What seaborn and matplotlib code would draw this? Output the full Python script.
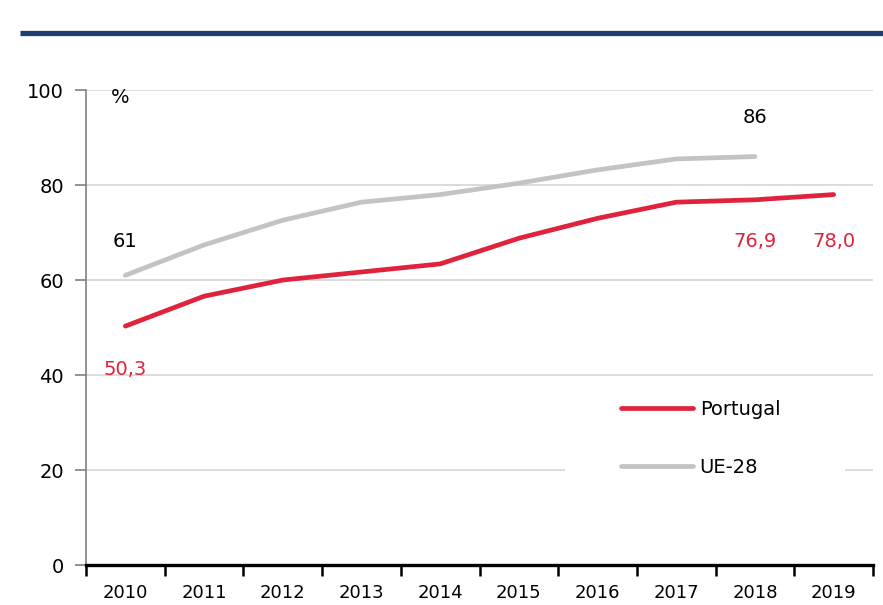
import matplotlib
matplotlib.use('Agg')
import matplotlib.pyplot as plt
from matplotlib.patches import Rectangle
import pandas as pd
import seaborn as sns

years = [2010, 2011, 2012, 2013, 2014, 2015, 2016, 2017, 2018, 2019]
portugal = [50.3, 56.6, 60.0, 61.7, 63.4, 68.8, 73.0, 76.4, 76.9, 78.0]
ue28_years = [2010, 2011, 2012, 2013, 2014, 2015, 2016, 2017, 2018]
ue28 = [61.0, 67.4, 72.6, 76.4, 78.0, 80.4, 83.2, 85.5, 86.0]

RED = '#E0233C'
GREY = '#C3C3C3'

df = pd.concat([
    pd.DataFrame({'Ano': years, 'Valor': portugal, 'Serie': 'Portugal'}),
    pd.DataFrame({'Ano': ue28_years, 'Valor': ue28, 'Serie': 'UE-28'}),
])

sns.set_style('white')
plt.rcParams['font.family'] = ['DejaVu Sans']
plt.rcParams['text.color'] = 'black'

fig = plt.figure(figsize=(8.83, 6.05), dpi=100)
ax = fig.add_axes([0.0974, 0.0661, 0.8913, 0.785])

g = sns.lineplot(data=df, x='Ano', y='Valor', hue='Serie',
                 palette={'Portugal': RED, 'UE-28': GREY},
                 linewidth=3.4, ax=ax)

ax.set_xlim(2009.5, 2019.5)
ax.set_ylim(0, 100)
ax.set_yticks(range(0, 101, 20))
ax.yaxis.grid(True, color='#D9D9D9', linewidth=1.3)
ax.set_axisbelow(True)
ax.set_xlabel('')
ax.set_ylabel('')

ax.set_xticks(years)
ax.set_xticklabels([str(y) for y in years], fontsize=13)
ax.set_xticks([y - 0.5 for y in years] + [2019.5], minor=True)
ax.tick_params(axis='x', which='major', bottom=False, length=0, pad=14,
               labelcolor='black')
ax.tick_params(axis='x', which='minor', bottom=True, length=8, width=1.8,
               color='black', direction='out')
ax.tick_params(axis='y', left=True, length=8, width=1.2, color='#808080',
               labelsize=14, pad=8, labelcolor='black')

for side in ['top', 'right']:
    ax.spines[side].set_visible(False)
ax.spines['left'].set_color('#808080')
ax.spines['left'].set_linewidth(1.2)
ax.spines['bottom'].set_color('black')
ax.spines['bottom'].set_linewidth(2.4)

# labels on the chart
ax.text(2009.93, 98.5, '%', fontsize=14, va='center', ha='center')
ax.text(2010, 68.2, '61', fontsize=14, ha='center', va='center', color='black')
ax.text(2018, 94.2, '86', fontsize=14, ha='center', va='center', color='black')
ax.text(2010, 41.2, '50,3', fontsize=14, ha='center', va='center', color=RED)
ax.text(2018, 68.2, '76,9', fontsize=14, ha='center', va='center', color=RED)
ax.text(2019, 68.2, '78,0', fontsize=14, ha='center', va='center', color=RED)

# white legend area hides part of the 20 gridline
ax.add_patch(Rectangle((0.609, 0.15), 0.355, 0.1, transform=ax.transAxes,
                       facecolor='white', edgecolor='none', zorder=1))

leg = ax.legend(loc='lower left', bbox_to_anchor=(0.655, 0.145), frameon=False,
                fontsize=14, handlelength=3.7, handletextpad=0.35,
                labelspacing=2.0, borderpad=0.5)
for t in leg.get_texts():
    t.set_color('black')

# navy rule at the top
fig.add_artist(plt.Line2D([20 / 883, 1.0], [1 - 33 / 605, 1 - 33 / 605],
                          color='#1F3E70', linewidth=3.8,
                          solid_capstyle='butt'))

fig.savefig('out.png', dpi=100)
